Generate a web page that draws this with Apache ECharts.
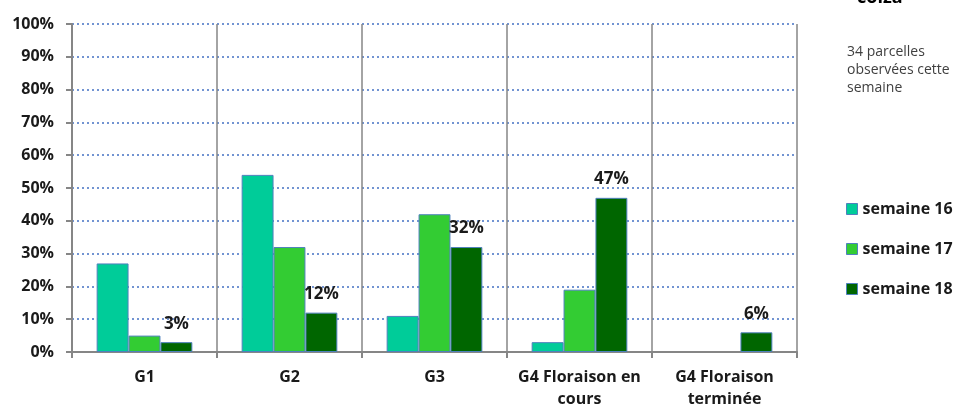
<!DOCTYPE html>
<html><head><meta charset="utf-8">
<script src="https://cdn.jsdelivr.net/npm/echarts@6/dist/echarts.min.js"></script>
<style>html,body{margin:0;padding:0;background:#fff}#c{width:955px;height:406px}</style>
</head><body><div id="c"></div>
<script>
const categories = ['G1', 'G2', 'G3', 'G4 Floraison en\ncours', 'G4 Floraison\nterminée'];
const seriesNames = ['semaine 16', 'semaine 17', 'semaine 18'];
const semaine16 = [27, 54, 11, 3, null];
const semaine17 = [5, 32, 42, 19, null];
const semaine18 = [3, 12, 32, 47, 6];
const yTicks = [0, 10, 20, 30, 40, 50, 60, 70, 80, 90, 100];
const colors = ['#00CC99', '#33CC33', '#006600'];
const FONT = '"Open Sans", Lato, sans-serif';

const chart = echarts.init(document.getElementById('c'), null, {renderer: 'canvas'});
const data = [semaine16, semaine17, semaine18];
chart.setOption({
  animation: false,
  grid: {left: 72, right: 158, top: 24, bottom: 54, containLabel: false, outerBoundsMode: 'none'},
  legend: {
    orient: 'vertical', left: 841, top: 196, itemGap: 24,
    itemWidth: 11, itemHeight: 11, icon: 'rect',
    textStyle: {fontFamily: FONT, fontWeight: 'bold', fontSize: 16, color: '#1a1a1a'},
    data: seriesNames.map((n, i) => ({name: n, itemStyle: {color: colors[i], borderColor: '#4F81BD', borderWidth: 1}}))
  },
  xAxis: {
    type: 'category', data: categories,
    axisLine: {lineStyle: {color: '#868686', width: 2}},
    axisTick: {show: true, length: 6, lineStyle: {color: '#868686', width: 2}},
    splitLine: {show: true, lineStyle: {color: '#868686', width: 1.5}},
    axisLabel: {fontFamily: FONT, fontWeight: 'bold', fontSize: 16, color: '#1a1a1a', margin: 14, lineHeight: 22, interval: 0}
  },
  yAxis: {
    type: 'value', min: yTicks[0], max: yTicks[yTicks.length - 1], interval: 10,
    axisLine: {show: true, lineStyle: {color: '#868686', width: 2}},
    axisTick: {show: true, length: 6, lineStyle: {color: '#868686', width: 2}},
    splitLine: {lineStyle: {color: '#4472C4', type: [2, 3], width: 1.5}},
    axisLabel: {fontFamily: FONT, fontWeight: 'bold', fontSize: 16, color: '#1a1a1a', margin: 18, formatter: '{value}%'}
  },
  series: seriesNames.map((n, i) => ({
    name: n, type: 'bar', data: data[i],
    barGap: '0%', barCategoryGap: '34%',
    itemStyle: {color: colors[i], borderColor: '#4F81BD', borderWidth: 1},
    label: i === 2 ? {show: true, position: 'top', distance: 10, formatter: '{c}%',
      fontFamily: FONT, fontWeight: 'bold', fontSize: 17, color: '#1a1a1a'} : {show: false}
  })),
  graphic: [
    {type: 'text', left: 857, top: -11, style: {text: 'colza', font: 'bold 18px ' + FONT, fill: '#000'}},
    {type: 'text', left: 847, top: 43, style: {text: '34 parcelles\nobservées cette\nsemaine', font: '14px ' + FONT, fill: '#404040', lineHeight: 18}}
  ]
});
</script></body></html>
